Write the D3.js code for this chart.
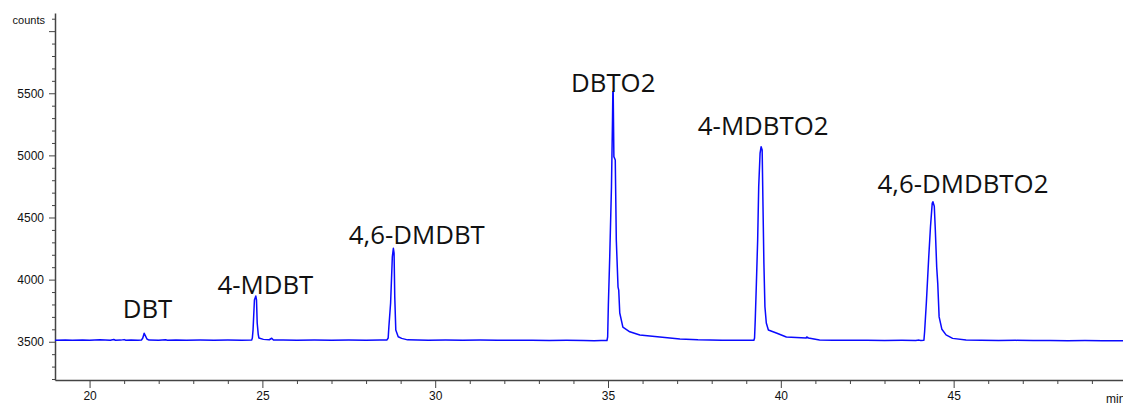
<!DOCTYPE html>
<html>
<head>
<meta charset="utf-8">
<script src="https://cdn.jsdelivr.net/npm/d3@7/dist/d3.min.js"></script>
<style>
  body { margin: 0; background: #fff; }
  .axis path, .axis line { stroke: #444; }
  .axis text { font-family: "Liberation Sans", Arial, sans-serif; font-size: 12px; fill: #111; }
</style>
</head>
<body>
<div id="chart"></div>
<script>
const F_WIDTH = 1123;
const F_HEIGHT = 405;

// trace pieces as [minutes, counts]
const traceDBT = [
  [19.0, 3512], [19.3, 3513], [19.5, 3511], [19.8, 3514], [20.0, 3512], [20.3, 3515],
  [20.6, 3512], [20.7, 3518], [20.75, 3512], [20.9, 3513], [21.0, 3517], [21.05, 3512],
  [21.2, 3513], [21.4, 3512], [21.5, 3513], [21.54, 3530], [21.58, 3568], [21.62, 3545],
  [21.66, 3522], [21.72, 3513], [22.0, 3512], [22.2, 3516], [22.25, 3512], [22.5, 3513]
];
const traceMDBT = [
  [22.8, 3512], [23.2, 3513], [23.6, 3512], [24.0, 3513], [24.4, 3512], [24.69, 3513],
  [24.71, 3530], [24.73, 3594], [24.77, 3836], [24.81, 3868], [24.83, 3836], [24.85, 3651],
  [24.88, 3560], [24.9, 3530], [25.03, 3519], [25.2, 3516], [25.27, 3528], [25.32, 3514]
];
const traceDMDBT = [
  [25.6, 3513], [26.0, 3512], [26.5, 3513], [27.0, 3512], [27.5, 3513], [28.0, 3512],
  [28.4, 3513], [28.6, 3513], [28.64, 3530], [28.66, 3621], [28.71, 3812], [28.76, 4184],
  [28.79, 4252], [28.81, 4214], [28.83, 3862], [28.86, 3594], [28.93, 3540], [29.03, 3527],
  [29.2, 3515]
];
const traceDBTO2 = [
  [29.8, 3512], [30.3, 3513], [30.8, 3511], [31.3, 3513], [31.8, 3512], [32.3, 3511],
  [32.8, 3512], [33.3, 3510], [33.8, 3511], [34.3, 3510], [34.6, 3508], [34.8, 3510],
  [34.97, 3510], [34.99, 3540], [35.01, 3795], [35.05, 4184], [35.1, 4748], [35.13, 5285],
  [35.14, 5513], [35.15, 5513], [35.17, 4990], [35.21, 4963], [35.24, 4319], [35.29, 3940],
  [35.31, 3916], [35.34, 3731], [35.43, 3618], [35.63, 3580], [35.92, 3554], [36.5, 3538],
  [37.08, 3522], [37.6, 3515]
];
const traceMDBTO2 = [
  [38.3, 3512], [38.8, 3511], [39.1, 3512], [39.22, 3512], [39.24, 3530], [39.26, 3675],
  [39.29, 3943], [39.33, 4319], [39.36, 4748], [39.4, 5019], [39.43, 5070], [39.46, 5043],
  [39.48, 4667], [39.51, 4134], [39.54, 3782], [39.58, 3651], [39.64, 3594], [39.87, 3570],
  [40.16, 3538], [40.73, 3530], [40.75, 3538], [40.8, 3530], [41.12, 3514]
];
const traceDMDBTO2 = [
  [41.5, 3512], [42.0, 3511], [42.5, 3512], [43.0, 3510], [43.5, 3511], [43.9, 3510],
  [44.0, 3513], [44.05, 3510], [44.14, 3512], [44.16, 3580], [44.21, 3812], [44.28, 4184],
  [44.33, 4426], [44.38, 4614], [44.4, 4627], [44.44, 4590], [44.47, 4400], [44.51, 4100],
  [44.54, 3970], [44.58, 3700], [44.62, 3650], [44.66, 3600], [44.78, 3555], [44.97, 3527],
  [45.36, 3514]
];
const traceTail = [
  [45.8, 3512], [46.3, 3510], [46.8, 3511], [47.3, 3509], [47.8, 3510], [48.3, 3508],
  [48.8, 3509], [49.3, 3508], [49.9, 3507]
];

// peak names and where their labels sit (minutes, counts)
const peakNames = ["DBT", "4-MDBT", "4,6-DMDBT", "DBTO2", "4-MDBTO2", "4,6-DMDBTO2"];
const labelTimes = [20.96, 23.7, 27.5, 33.93, 37.6, 42.8];
const labelCounts = [3689, 3882, 4287, 5512, 5164, 4697];

// tick values
const xMajor = [20, 25, 30, 35, 40, 45];
const xMinor = [21, 22, 23, 24, 26, 27, 28, 29, 31, 32, 33, 34, 36, 37, 38, 39, 41, 42, 43, 44, 46, 47, 48, 49];
const yMajor = [3500, 4000, 4500, 5000, 5500, 6000];
const yLabels = ["3500", "4000", "4500", "5000", "5500", ""];
const yMinor = [3200, 3300, 3400, 3600, 3700, 3800, 3900, 4100, 4200, 4300, 4400, 4600, 4700,
                4800, 4900, 5100, 5200, 5300, 5400, 5600, 5700, 5800, 5900, 6100];

const trace = [].concat(traceDBT, traceMDBT, traceDMDBT, traceDBTO2, traceMDBTO2, traceDMDBTO2, traceTail);

const FRAME = d3.select("#chart")
  .append("svg")
    .attr("width", F_WIDTH)
    .attr("height", F_HEIGHT);

const X_SCALE = d3.scaleLinear()
  .domain([19.0, 49.9])
  .range([55, 1123]);

const Y_SCALE = d3.scaleLinear()
  .domain([3192, 6146])
  .range([380, 13]);

// x axis: minor ticks then labelled majors
FRAME.append("g")
  .attr("class", "axis")
  .attr("transform", "translate(0,380)")
  .call(d3.axisBottom(X_SCALE).tickValues(xMinor).tickSize(4).tickFormat(""))
  .call(g => g.select(".domain").remove());

FRAME.append("g")
  .attr("class", "axis")
  .attr("transform", "translate(0,380)")
  .call(d3.axisBottom(X_SCALE).tickValues(xMajor).tickSize(8).tickSizeOuter(0).tickPadding(3))
  .call(g => g.select(".domain").attr("stroke-width", 1.5));

// y axis
FRAME.append("g")
  .attr("class", "axis")
  .attr("transform", "translate(55,0)")
  .call(d3.axisLeft(Y_SCALE).tickValues(yMinor).tickSize(3).tickFormat(""))
  .call(g => g.select(".domain").remove());

FRAME.append("g")
  .attr("class", "axis")
  .attr("transform", "translate(55,0)")
  .call(d3.axisLeft(Y_SCALE).tickValues(yMajor).tickSize(6).tickSizeOuter(0).tickPadding(5)
    .tickFormat((d, i) => yLabels[i]))
  .call(g => g.select(".domain").attr("stroke-width", 1.5));

// axis titles
FRAME.append("text")
  .attr("x", 45)
  .attr("y", 24)
  .attr("text-anchor", "end")
  .style("font-family", "Liberation Sans, Arial, sans-serif")
  .style("font-size", "11px")
  .style("fill", "#111")
  .text("counts");

// the reference cuts this one at the right edge too
FRAME.append("text")
  .attr("x", 1106)
  .attr("y", 403)
  .style("font-family", "Liberation Sans, Arial, sans-serif")
  .style("font-size", "12px")
  .style("fill", "#111")
  .text("min");

// the trace
const line = d3.line()
  .x(d => X_SCALE(d[0]))
  .y(d => Y_SCALE(d[1]));

FRAME.append("path")
  .datum(trace)
  .attr("d", line)
  .attr("fill", "none")
  .attr("stroke", "#0a0aff")
  .attr("stroke-width", 1.5)
  .attr("stroke-linejoin", "round");

// peak labels
FRAME.append("g")
  .selectAll("text")
  .data(peakNames)
  .enter()
  .append("text")
    .attr("x", (d, i) => X_SCALE(labelTimes[i]))
    .attr("y", (d, i) => Y_SCALE(labelCounts[i]))
    .style("font-family", "Open Sans, sans-serif")
    .style("font-size", "25.8px")
    .style("fill", "#111")
    .text(d => d);
</script>
</body>
</html>
